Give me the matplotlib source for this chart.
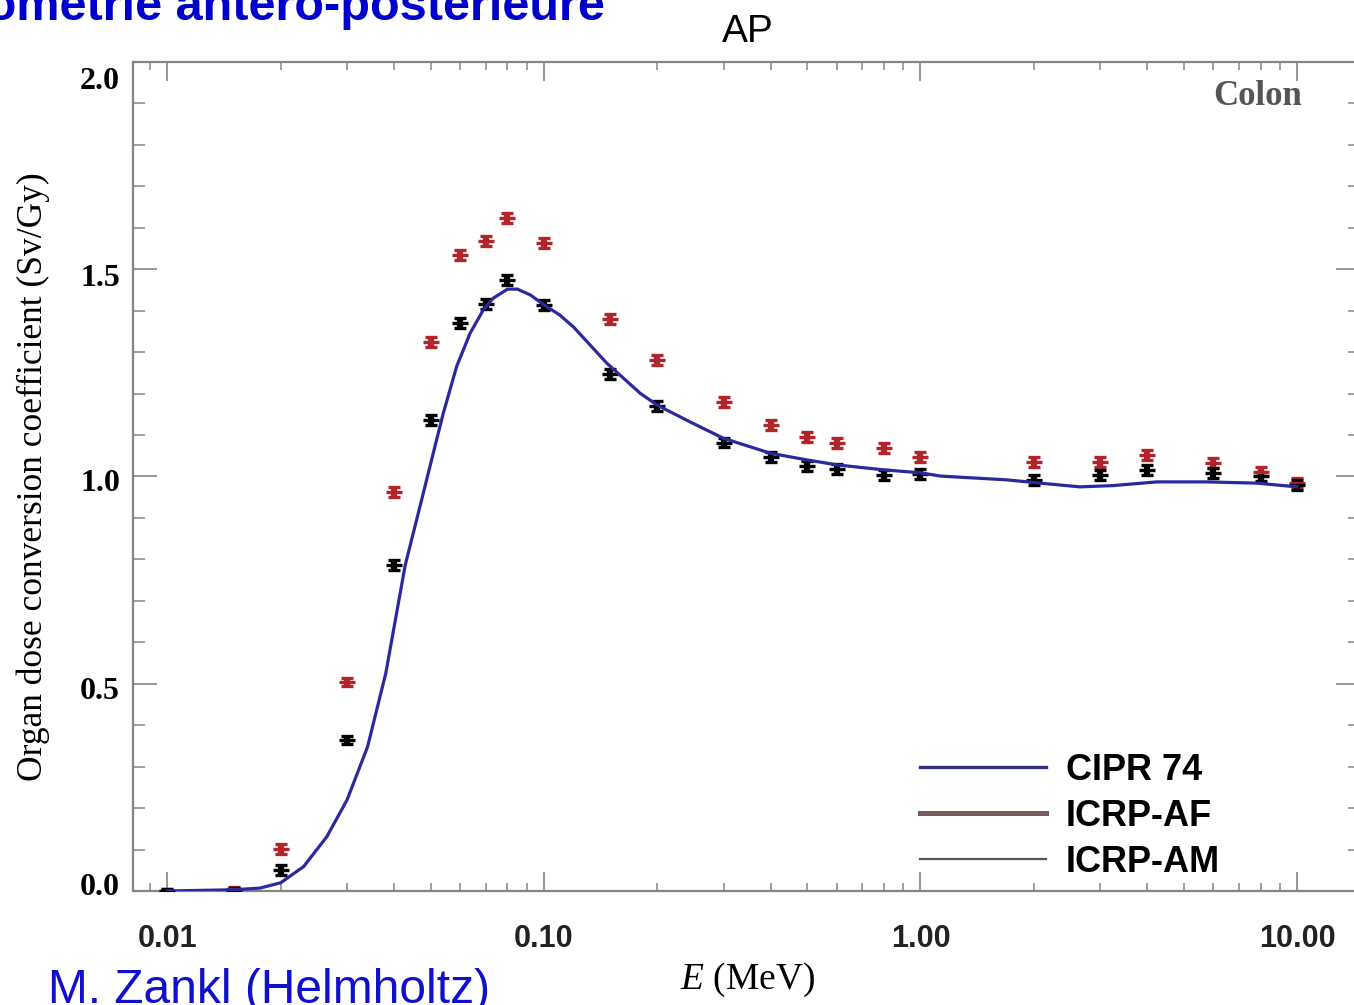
import matplotlib
matplotlib.use("Agg")
import matplotlib.pyplot as plt
from matplotlib.lines import Line2D
from matplotlib.ticker import LogLocator, MultipleLocator, NullFormatter
from matplotlib.transforms import ScaledTranslation

plt.rcParams["mathtext.fontset"] = "custom"
plt.rcParams["mathtext.it"] = "Liberation Serif:italic"
plt.rcParams["mathtext.rm"] = "Liberation Serif"

# Photon energies (MeV) of the voxel-phantom calculations
energy = [0.01, 0.015, 0.02, 0.03, 0.04, 0.05, 0.06, 0.07, 0.08, 0.1, 0.15, 0.2,
          0.3, 0.4, 0.5, 0.6, 0.8, 1.0, 2.0, 3.0, 4.0, 6.0, 8.0, 10.0]
# Colon conversion coefficients, AP geometry (Sv/Gy)
icrp_af = [0.001, 0.005, 0.101, 0.505, 0.963, 1.325, 1.534, 1.569, 1.624, 1.563,
           1.379, 1.281, 1.180, 1.124, 1.096, 1.080, 1.068, 1.046, 1.036, 1.036,
           1.052, 1.032, 1.012, 0.984]
icrp_am = [0.000, 0.003, 0.051, 0.364, 0.786, 1.136, 1.370, 1.416, 1.474, 1.414,
           1.247, 1.170, 1.082, 1.048, 1.025, 1.017, 1.004, 1.006, 0.992, 1.004,
           1.015, 1.008, 1.000, 0.979]
err_af = [0.004, 0.004, 0.012, 0.010] + [0.012] * 20
err_am = [0.004, 0.004, 0.012, 0.010] + [0.012] * 20

# ICRP 74 reference curve
cipr_e = [0.01, 0.015, 0.0176, 0.02, 0.023, 0.0265, 0.03, 0.034, 0.038, 0.0428,
          0.0473, 0.0508, 0.054, 0.0586, 0.0636, 0.069, 0.0733, 0.08, 0.085, 0.092,
          0.1, 0.11, 0.12, 0.147, 0.18, 0.2, 0.244, 0.3, 0.4, 0.5, 0.6, 0.8, 1.0,
          1.13, 1.69, 2.08, 2.65, 3.24, 4.24, 5.75, 7.82, 10.0]
cipr_v = [0.0, 0.003, 0.007, 0.02, 0.059, 0.131, 0.22, 0.348, 0.525, 0.786,
          0.943, 1.056, 1.152, 1.265, 1.345, 1.402, 1.430, 1.452, 1.452, 1.438,
          1.414, 1.390, 1.360, 1.273, 1.201, 1.172, 1.132, 1.092, 1.056, 1.040,
          1.028, 1.016, 1.009, 1.001, 0.992, 0.984, 0.975, 0.978, 0.987, 0.987,
          0.984, 0.975]

xtick_vals = [0.01, 0.1, 1.0, 10.0]
xtick_labels = ["0.01", "0.10", "1.00", "10.00"]
ytick_vals = [0.0, 0.5, 1.0, 1.5, 2.0]
ytick_labels = ["0.0", "0.5", "1.0", "1.5", "2.0"]
legend_labels = ["CIPR 74", "ICRP-AF", "ICRP-AM"]

W, H = 1354, 1005
fig = plt.figure(figsize=(W / 100, H / 100), dpi=100)
fig.patch.set_facecolor("white")

ax_l, ax_r, ax_t, ax_b = 132.6, 1360, 62, 891
ax = fig.add_axes([ax_l / W, 1 - ax_b / H, (ax_r - ax_l) / W, (ax_b - ax_t) / H])
ax.set_xscale("log")
ax.set_xlim(0.00808, 14.7)
ax.set_ylim(0.0, 2.0)

red = "#b0242a"
blue = "#2a2a9e"
axis_grey = "#858585"

bar_style = dict(fmt="_", ms=12, mew=2.4, elinewidth=4.5, capsize=4.4,
                 capthick=2.4, zorder=3)
ax.errorbar(energy, icrp_af, yerr=err_af, color=red, **bar_style)
ax.errorbar(energy, icrp_am, yerr=err_am, color="black", **bar_style)
ax.plot(cipr_e, cipr_v, color=blue, lw=2.3, zorder=4, solid_joinstyle="round")

for s in ax.spines.values():
    s.set_color(axis_grey)
    s.set_linewidth(1.6)

serif = "Liberation Serif"
sans = "Liberation Sans"

ax.set_xticks(xtick_vals, labels=xtick_labels)
ax.xaxis.set_minor_locator(LogLocator(base=10, subs=range(2, 10), numticks=20))
ax.xaxis.set_minor_formatter(NullFormatter())
ax.set_yticks(ytick_vals, labels=ytick_labels)
ax.yaxis.set_minor_locator(MultipleLocator(0.1))

ax.tick_params(axis="x", which="major", direction="in", length=13.5, width=1.2,
               color=axis_grey, top=True, pad=24, labelsize=22)
ax.tick_params(axis="x", which="minor", direction="in", length=5.5, width=1.1,
               color=axis_grey, top=True)
ax.tick_params(axis="y", which="major", direction="in", length=17, width=1.2,
               color=axis_grey, right=True, pad=9, labelsize=23)
ax.tick_params(axis="y", which="minor", direction="in", length=8.5, width=1.1,
               color=axis_grey, right=True)
for lab in ax.get_xticklabels():
    lab.set_fontfamily(sans)
    lab.set_fontweight("bold")
    lab.set_color("#222222")
for lab in ax.get_yticklabels():
    lab.set_fontfamily(serif)
    lab.set_fontweight("bold")

ax.set_ylabel("Organ dose conversion coefficient (Sv/Gy)", fontfamily=serif,
              fontsize=25.5)
ax.yaxis.set_label_coords((50 - ax_l) / (ax_r - ax_l), 0.5)

ax.set_xlabel(r"$E$ (MeV)", fontfamily=serif, fontsize=27)
ax.xaxis.set_label_coords((748 - ax_l) / (ax_r - ax_l), -(961 - ax_b) / (ax_b - ax_t))

fig.text(1302 / W, 1 - 105 / H, "Colon", fontfamily=serif, fontweight="bold",
         fontsize=25, color="#555555", ha="right", va="baseline")

# Legend
fs_leg = 26
handles = [Line2D([], [], color="#2e2e88", lw=2.4),
           Line2D([], [], color="#7a5a5a", lw=3.6),
           Line2D([], [], color="#555555", lw=1.6)]
fs_px = fs_leg * 100 / 72
ax.legend(handles, legend_labels, loc="upper left",
          bbox_to_anchor=(920 / W, 1 - 753 / H), bbox_transform=fig.transFigure,
          frameon=False, borderpad=0, borderaxespad=0,
          handlelength=126 / fs_px, handletextpad=20 / fs_px, labelspacing=0.3,
          prop={"family": sans, "weight": "bold", "size": fs_leg})

# Figure annotations
fig.text(748 / W, 1 - 42 / H, "AP", fontfamily=sans, fontsize=28, ha="center",
         va="baseline", color="black")
fig.text(605 / W, 1 - 20 / H, "Géométrie antéro-postérieure", fontfamily=sans,
         fontweight="bold", fontsize=35, color="#0000cc", ha="right", va="baseline")
fig.text(48 / W, 1 - 1003 / H, "M. Zankl (Helmholtz)", fontfamily=sans,
         fontsize=34.5, color="#1010cc", ha="left", va="baseline")

# Nudge the y tick labels to sit where the plotting package placed them
fig.canvas.draw()
label_shift_px = {0.0: 7, 0.5: -4, 1.0: -3, 1.5: -6, 2.0: -16}
for tick in ax.yaxis.get_major_ticks():
    val = round(tick.get_loc(), 2)
    if val in label_shift_px:
        tick.label1.set_transform(
            tick.label1.get_transform()
            + ScaledTranslation(0, label_shift_px[val] / 100, fig.dpi_scale_trans))

fig.savefig("out.png", dpi=100, facecolor="white")
